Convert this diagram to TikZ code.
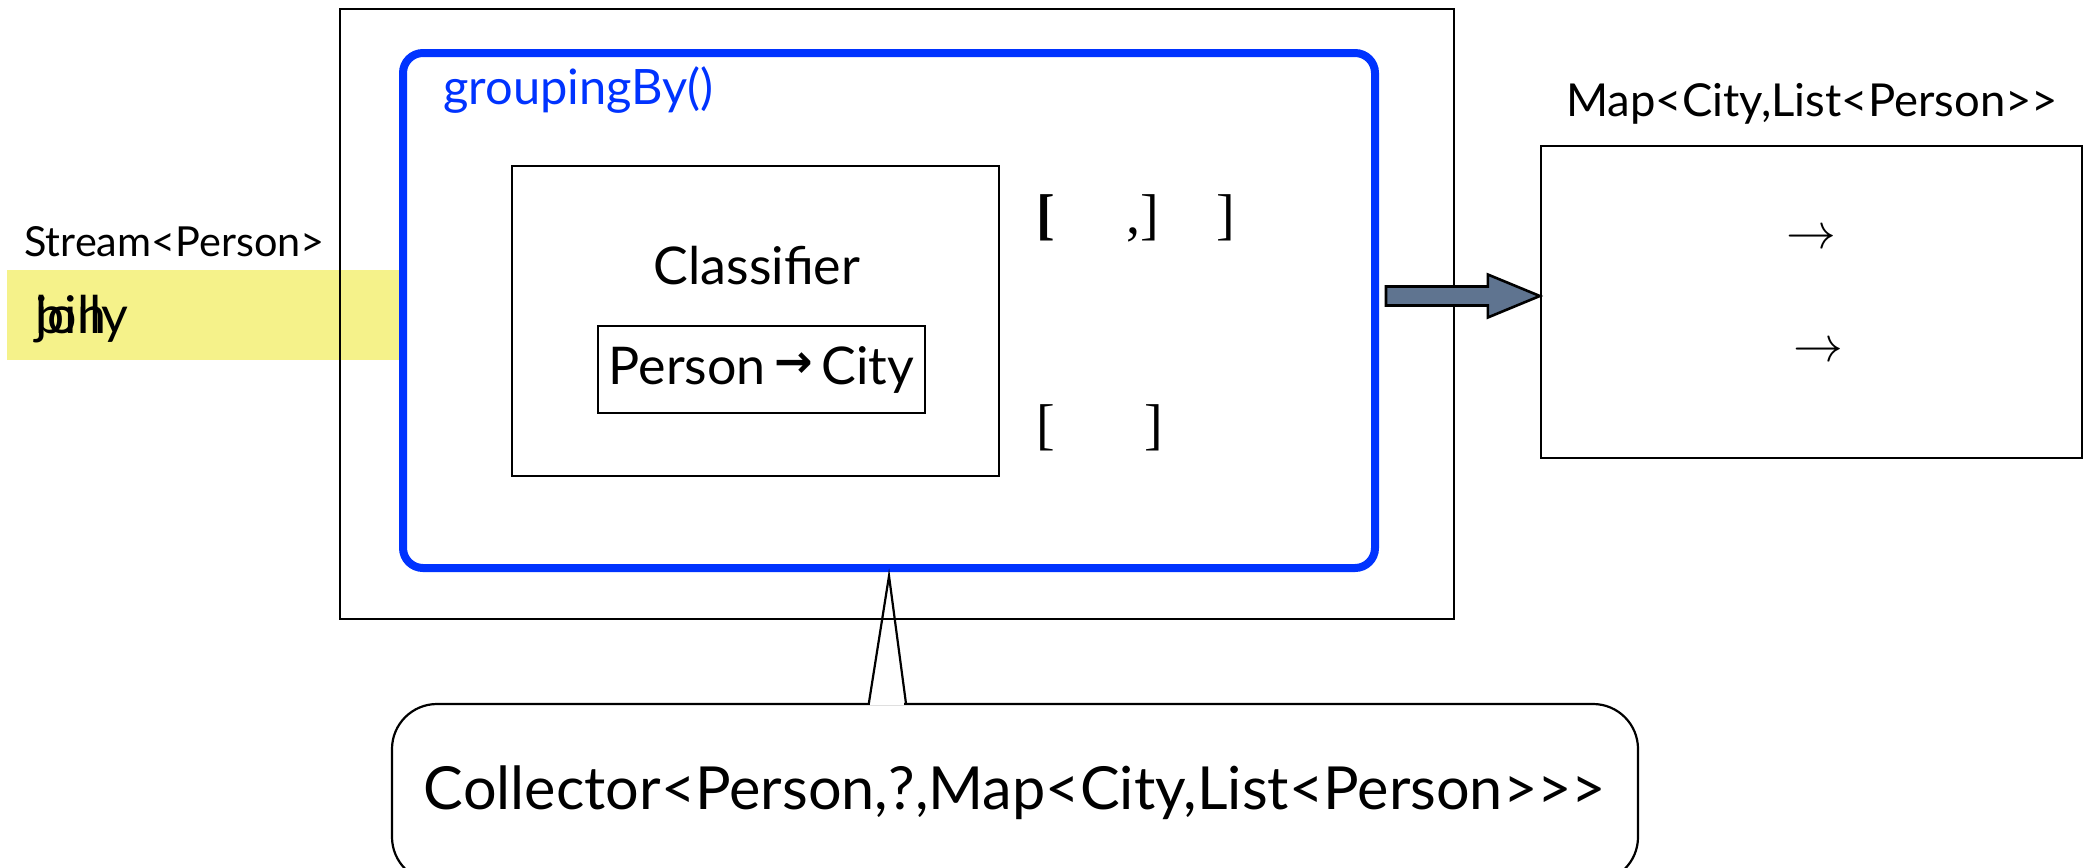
\documentclass[tikz,border=0pt]{standalone}
\usepackage{fontspec}
\setmainfont{Lato}
\newfontfamily\serifglyphs{Liberation Serif}
\newfontfamily\arrowglyph{DejaVu Sans}
\usetikzlibrary{fit,calc}
\definecolor{grpblue}{RGB}{0,51,255}
\definecolor{bandyellow}{RGB}{245,242,138}
\definecolor{slate}{RGB}{95,116,144}
\newcommand\fsz[1]{\fontsize{#1}{1.2\dimexpr#1\relax}\selectfont}
\begin{document}
\begin{tikzpicture}[x=0.5pt,y=-0.5pt,
  plainbox/.style={draw=black, line width=1.2pt, inner sep=0pt},
  txt/.style={inner sep=0pt, text=black},
  bracket/.style={inner sep=0pt, font=\serifglyphs\fsz{28pt}},
  fatarrow/.style={draw=black, line width=1.3pt, fill=slate, line join=miter},
  calloutline/.style={draw=black, line width=1.1pt}]
\useasboundingbox (0,0) rectangle (2097,867);
\clip (0,0) rectangle (2097,867);

% incoming stream band
\node[fit={(7,270)(401,360)}, inner sep=0pt, fill=bandyellow] (band) {};
\node[txt, anchor=base west, font=\fsz{26pt}] (jon) at (35,333) {jon};
\node[txt, anchor=base west, font=\fsz{26pt}] (billy) at (35,333) {billy};
\node[txt, anchor=base west, font=\fsz{20.7pt}] (streamlbl) at (24,256) {Stream<Person>};

% collector frame and groupingBy block
\node[plainbox, fit={(340,9)(1454,619)}] (outer) {};
\node[draw=grpblue, line width=4pt, rounded corners=10pt, inner sep=0pt,
      fit={(403,53)(1375,568)}] (grp) {};
\node[txt, anchor=base west, text=grpblue, font=\fsz{24.4pt}] (grplbl) at (443,104) {groupingBy()};

% classifier
\node[plainbox, line width=1pt, fit={(512,166)(999,476)}] (cls) {};
\node[txt, font=\fsz{26pt}] (clslbl) at (757,266) {Classifier};
\node[plainbox, line width=1pt, fit={(598,326)(925,413)}] (fnbox) {};
\node[txt, font=\fsz{26pt}] (fnlbl) at (fnbox.center)
  {Person\,\raisebox{0.12em}{\arrowglyph\bfseries\fsz{23pt}→}\,City};

% list brackets
\node[bracket, font=\serifglyphs\bfseries\fsz{28pt}] (b1) at (1046,218) {[};
\node[bracket, anchor=east] (b2) at (1160,218) {,]};
\node[bracket] (b3) at (1226,218) {]};
\node[bracket] (b4) at (1046,428) {[};
\node[bracket] (b5) at (1154,428) {]};

% result map
\node[plainbox, fit={(1541,146)(2082,458)}] (map) {};
\node[txt, anchor=base, font=\fsz{22.7pt}] (maplbl) at (1812,116) {Map<City,List<Person>{>}};
\node[txt, font=\fsz{28.5pt}] (m1) at (1811,239) {\(\rightarrow\)};
\node[txt, font=\fsz{28.5pt}] (m2) at (1818,352) {\(\rightarrow\)};

% block arrow from groupingBy to the map
\coordinate (tip) at ($(map.west)+(0,-6)$);
\coordinate (tail) at ($(grp.east |- tip)+(7,0)$);
\draw[fatarrow] ($(tail)+(0,-9.5)$) -- ($(tip)+(-52,-9.5)$) -- ($(tip)+(-52,-21.5)$)
  -- (tip) -- ($(tip)+(-52,21.5)$) -- ($(tip)+(-52,9.5)$) -- ($(tail)+(0,9.5)$) -- cycle;

% callout with its type
\node[calloutline, rounded corners=22.5pt, inner sep=0pt, fit={(392,704)(1638,882)}] (callout) {};
\node[txt, font=\fsz{29.7pt}] (ctext) at (1015,793) {Collector<Person,?,Map<City,List<Person>{>}{>}};
\coordinate (ptip) at ($(grp.south)+(0,4)$);
\coordinate (pl) at ($(callout.north west)+(478,0)$);
\coordinate (pr) at ($(callout.north west)+(515,0)$);
\draw[white, line width=2pt] ($(pl)+(1.5,0)$) -- ($(pr)+(-1.5,0)$);
\draw[calloutline, line join=miter] (pl) -- (ptip) -- (pr);
\end{tikzpicture}
\end{document}
